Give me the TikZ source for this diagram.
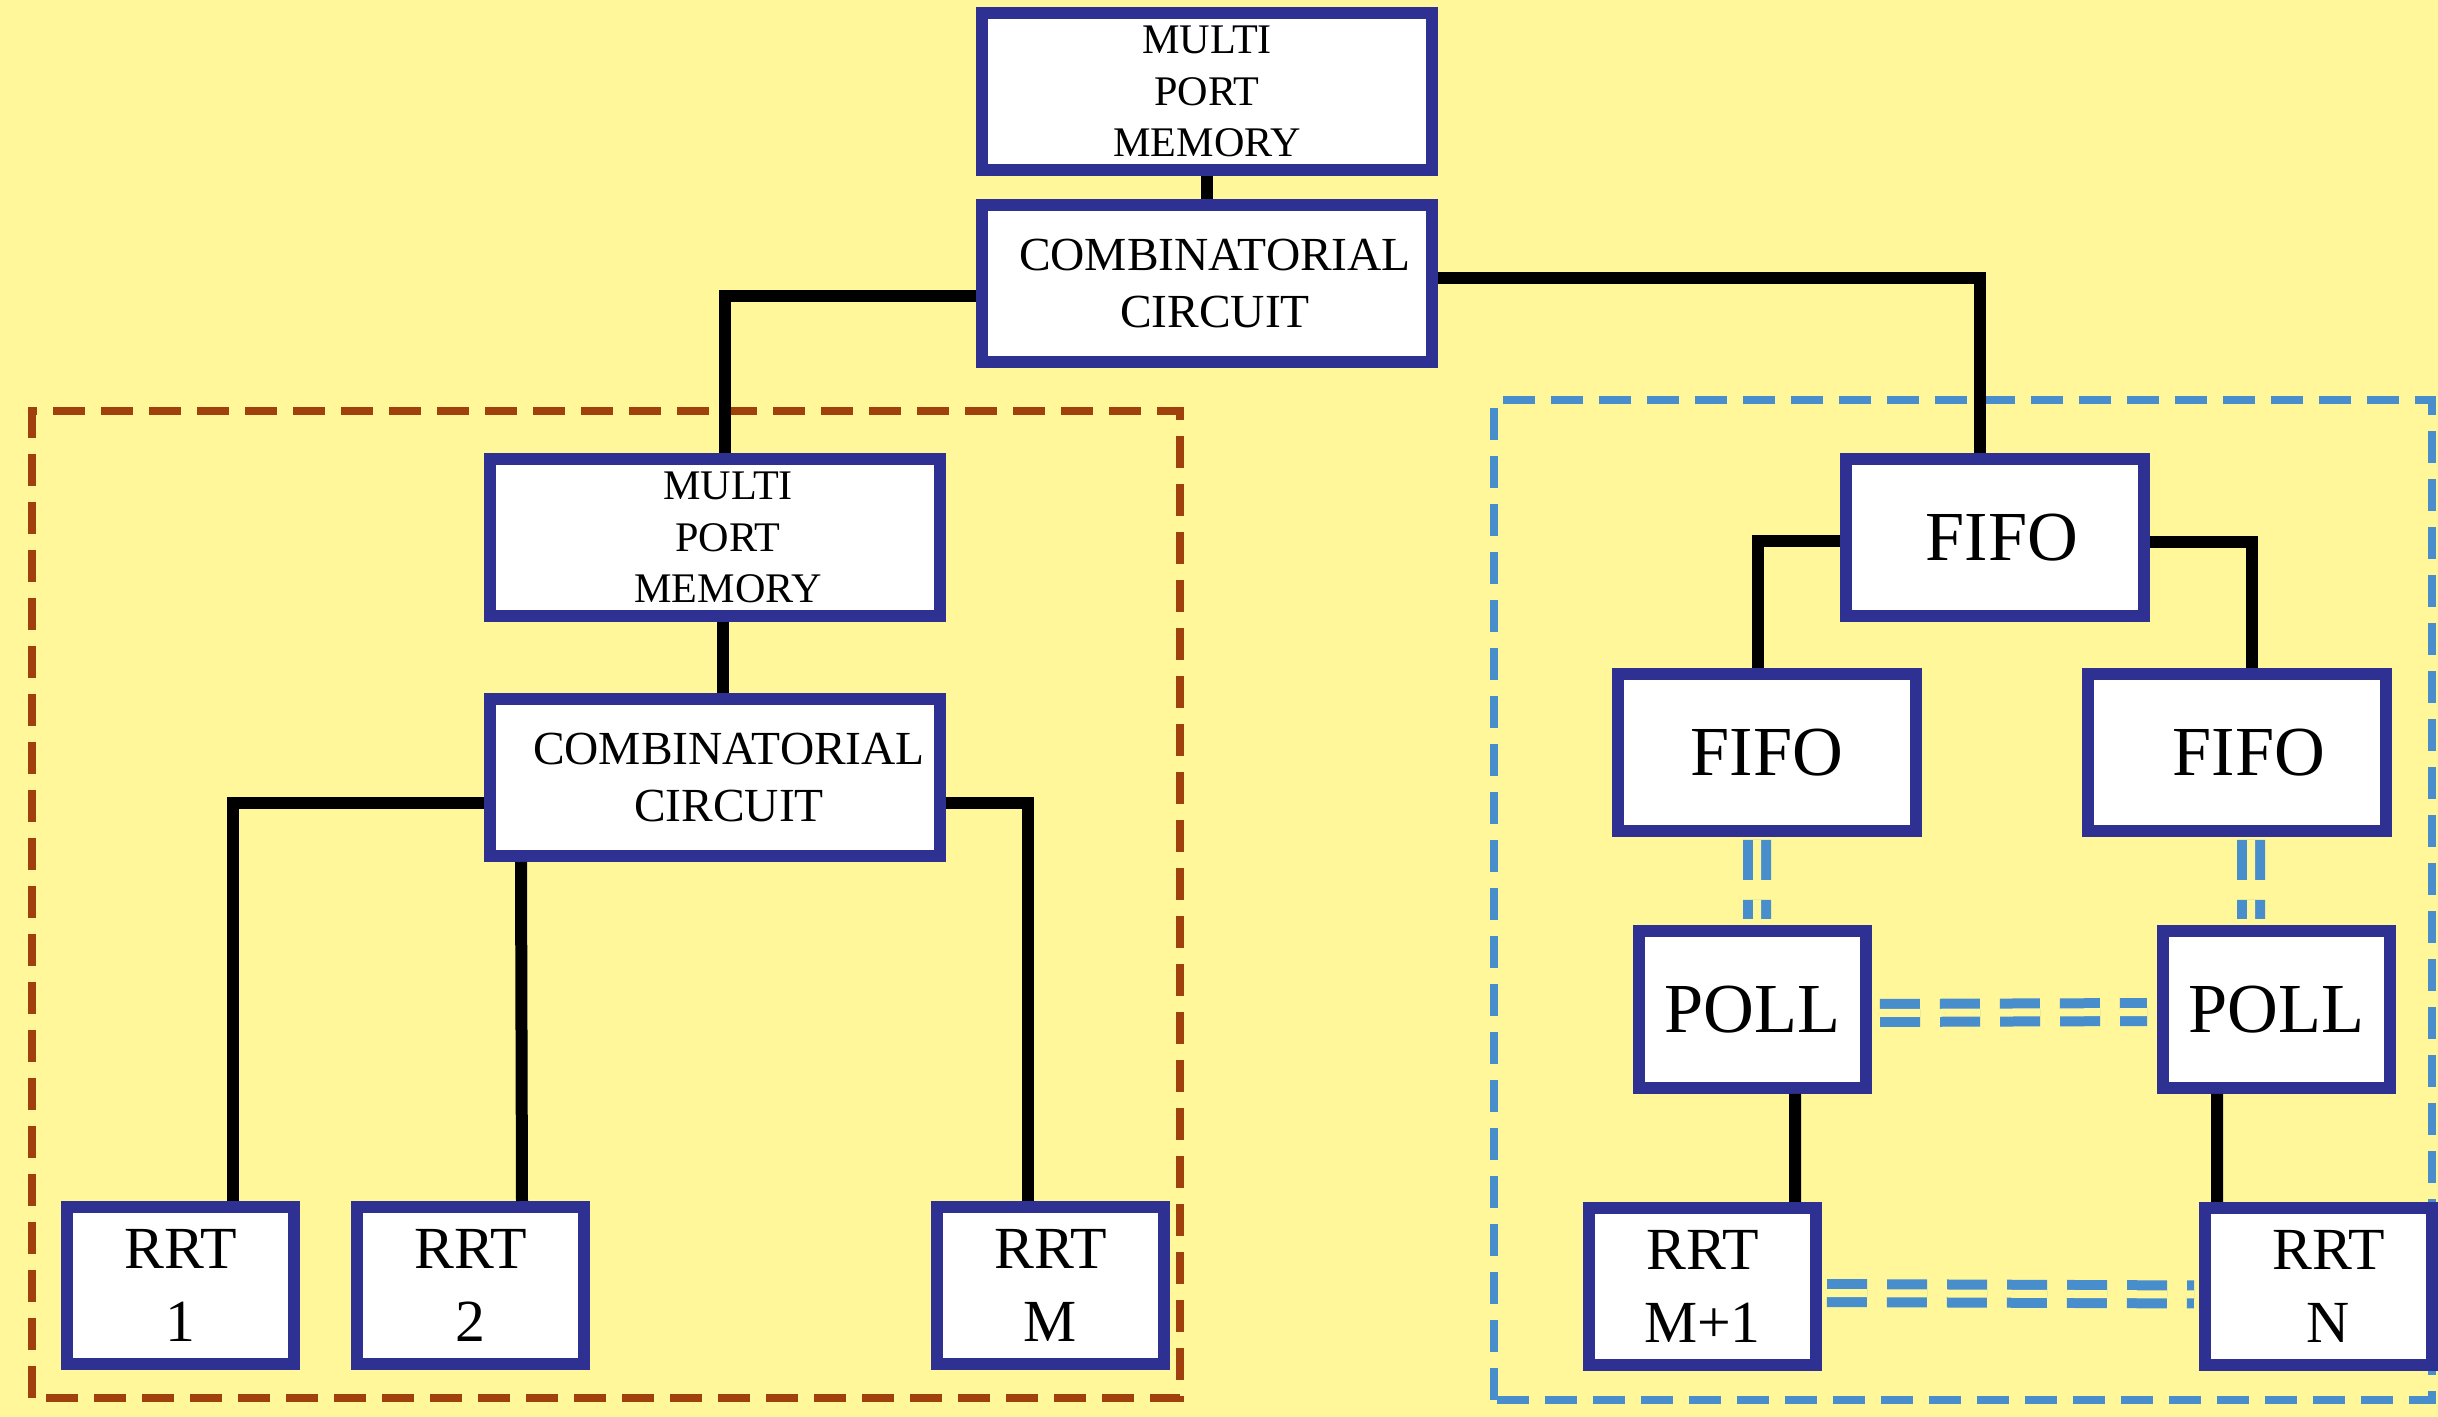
\documentclass[tikz,border=0pt]{standalone}
\usepackage{fontspec}
\setmainfont{Liberation Serif}
\usepackage{xcolor}
\usepackage{tikz}
\usetikzlibrary{positioning}
\definecolor{bgyellow}{RGB}{255,247,153}
\definecolor{boxblue}{RGB}{46,49,146}
\definecolor{framered}{RGB}{160,65,13}
\definecolor{frameblue}{RGB}{72,141,204}
\newcommand{\lpad}[1]{\hspace*{#1}}
\tikzset{
  hwbox/.style={rectangle, draw=boxblue, fill=white, line width=0.12cm, inner sep=0pt, align=center, minimum height=1.57cm},
  hwmem/.style={hwbox, minimum width=4.50cm, font=\fontsize{12}{14.6}\selectfont},
  hwcomb/.style={hwbox, minimum width=4.50cm, font=\fontsize{13.5}{16.4}\selectfont},
  hwfifo/.style={hwbox, minimum width=2.98cm, font=\fontsize{20}{24}\selectfont},
  hwpoll/.style={hwbox, minimum width=2.27cm, font=\fontsize{20}{24}\selectfont},
  hwrrt/.style={hwbox, minimum width=2.27cm, font=\fontsize{17}{21}\selectfont},
  hwwire/.style={draw=black, line width=0.12cm},
  hwlink/.style={draw=frameblue, line width=0.1cm, double=bgyellow, double distance=0.08cm, dash pattern=on 0.4cm off 0.2cm},
  hwgroup/.style={line width=0.08cm, dash pattern=on 0.32cm off 0.16cm}
}
\begin{document}
\begin{tikzpicture}
\useasboundingbox (0,0) rectangle (24.38,14.17);
\fill[bgyellow] (0,0) rectangle (24.38,14.17);
% group frames
\draw[hwgroup, draw=framered] (0.32,0.19) rectangle (11.80,10.06);
\draw[hwgroup, draw=frameblue] (14.94,0.17) rectangle (24.32,10.165);
% blocks
\node[hwmem] (topmem) at (12.07,13.255) {MULTI\\PORT\\MEMORY};
\node[hwcomb, below=0.23cm of topmem] (topcomb) {\lpad{1.6mm}COMBINATORIAL\\\lpad{1.6mm}CIRCUIT};
\node[hwmem, below left=0.85cm and 0.30cm of topcomb] (leftmem) {\lpad{2.6mm}MULTI\\\lpad{2.6mm}PORT\\\lpad{2.6mm}MEMORY};
\node[hwcomb, below=0.71cm of leftmem] (leftcomb) {\lpad{2.8mm}COMBINATORIAL\\\lpad{2.8mm}CIRCUIT};
\node[hwrrt, below left=3.39cm and 1.84cm of leftcomb] (rrtone) {RRT\\1};
\node[hwrrt, right=0.51cm of rrtone] (rrttwo) {RRT\\2};
\node[hwrrt, right=3.41cm of rrttwo] (rrtm) {RRT\\M};
\node[hwfifo, below right=0.85cm and 4.02cm of topcomb] (fifotop) {\lpad{1.4mm}FIFO};
\node[hwfifo, below=0.46cm of fifotop, xshift=-2.28cm] (fifoleft) {FIFO};
\node[hwfifo, below=0.46cm of fifotop, xshift=2.42cm] (fiforight) {\lpad{2.4mm}FIFO};
\node[hwpoll, below=0.88cm of fifoleft, xshift=-0.145cm] (pollleft) {POLL};
\node[hwpoll, below=0.88cm of fiforight, xshift=0.395cm] (pollright) {POLL};
\node[hwrrt, below=1.08cm of pollleft, xshift=-0.50cm] (rrtmone) {RRT\\M+1};
\node[hwrrt, below=1.08cm of pollright, xshift=0.42cm] (rrtn) {\lpad{2mm}RRT\\\lpad{2mm}N};
% wires
\draw[hwwire] (topmem) -- (topcomb);
\draw[hwwire] ([yshift=-1.25mm]topcomb.west) -| ([xshift=1mm]leftmem.north);
\draw[hwwire] ([yshift=0.55mm]topcomb.east) -| ([xshift=-1.5mm]fifotop.north);
\draw[hwwire] ([xshift=0.8mm]leftmem.south) -- ([xshift=0.8mm]leftcomb.north);
\draw[hwwire] ([yshift=-2.55mm]leftcomb.west) -| ([xshift=5.25mm]rrtone.north);
\draw[hwwire] ([xshift=-19.4mm]leftcomb.south) -- ([xshift=5.15mm]rrttwo.north);
\draw[hwwire] ([yshift=-2.55mm]leftcomb.east) -| ([xshift=-2.25mm]rrtm.north);
\draw[hwwire] ([yshift=-0.35mm]fifotop.west) -| ([xshift=-0.9mm]fifoleft.north);
\draw[hwwire] ([yshift=-0.45mm]fifotop.east) -| ([xshift=1.5mm]fiforight.north);
\draw[hwwire] ([xshift=4.25mm]pollleft.south) -- ([xshift=9.25mm]rrtmone.north);
\draw[hwwire] ([xshift=-5.95mm]pollright.south) -- ([xshift=-10.15mm]rrtn.north);
% polling links
\draw[hwlink, shorten <=0.03cm, shorten >=0.06cm] ([xshift=-1mm]fifoleft.south) -- ([xshift=0.45mm]pollleft.north);
\draw[hwlink, shorten <=0.03cm, shorten >=0.06cm] ([xshift=1.4mm]fiforight.south) -- ([xshift=-2.55mm]pollright.north);
\draw[hwlink, shorten <=0.08cm, shorten >=0.1cm] ([yshift=-0.35mm]pollleft.east) -- ([yshift=-0.25mm]pollright.west);
\draw[hwlink, shorten <=0.05cm, shorten >=0.05cm] ([yshift=-0.65mm]rrtmone.east) -- ([yshift=-0.8mm]rrtn.west);
\end{tikzpicture}
\end{document}
